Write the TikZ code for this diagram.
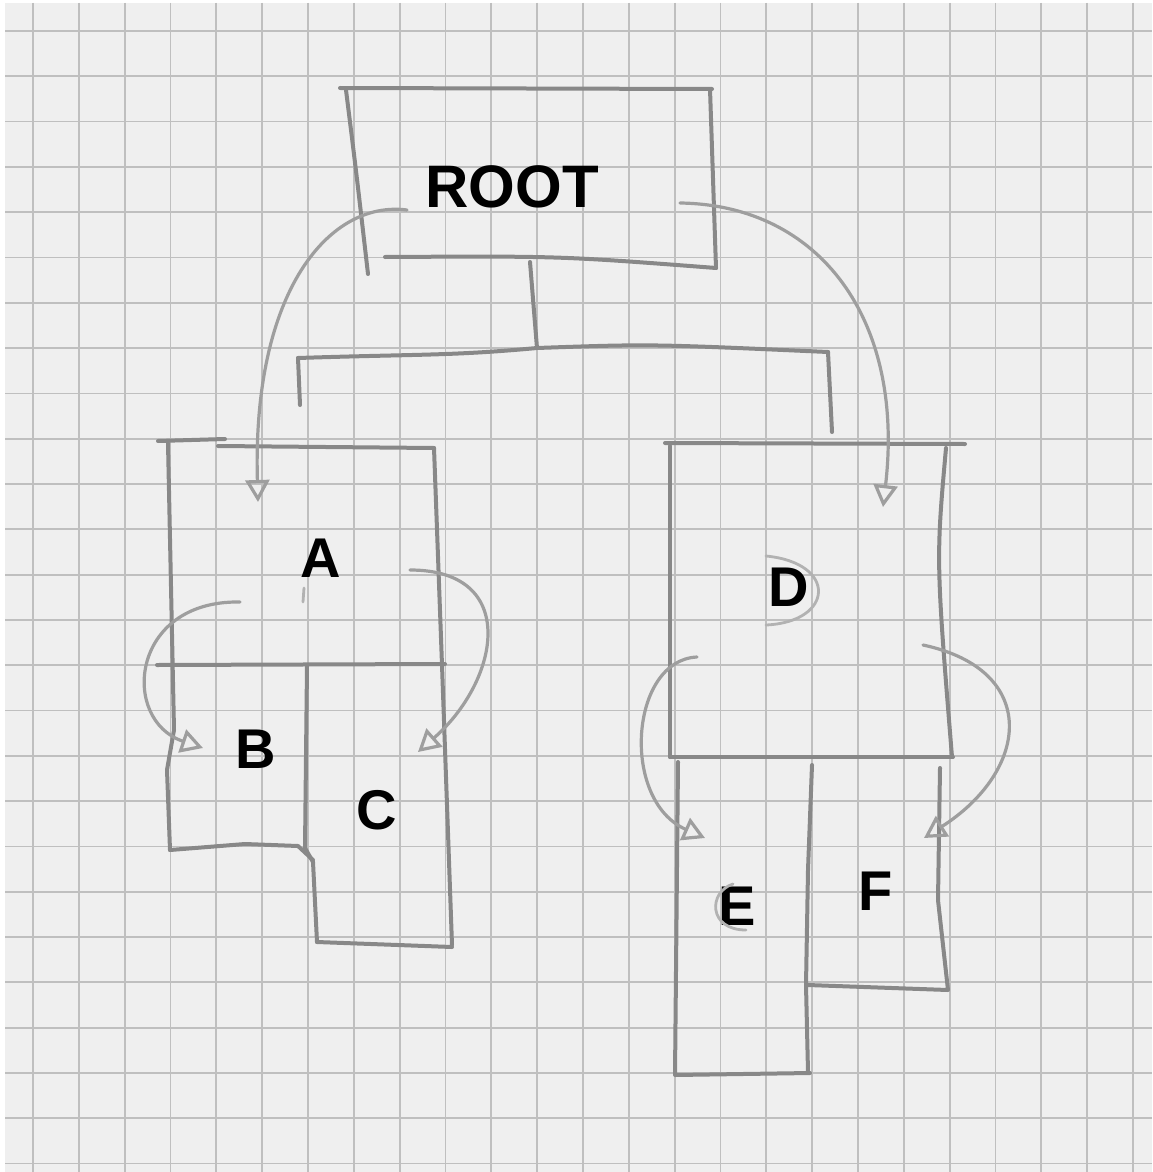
\documentclass[tikz,border=0pt]{standalone}
\usepackage{fontspec}
\setmainfont{Liberation Sans}
\usetikzlibrary{arrows.meta}
\definecolor{paper}{HTML}{EFEFEF}
\definecolor{gridc}{HTML}{BFBFBF}
\definecolor{pencil}{HTML}{888888}
\definecolor{pencilL}{HTML}{9E9E9E}
\tikzset{
  box/.style={draw=pencil, line width=2pt, line cap=round, line join=round},
  arr/.style={draw=pencilL, line width=1.6pt, line cap=round,
    -{Triangle[open, length=11pt, width=12pt]}},
  lbl/.style={inner sep=0pt, font=\bfseries\fontsize{28}{30}\selectfont},
  faint/.style={draw=pencilL!75!paper, line width=1.4pt, line cap=round},
  gridline/.style={draw=gridc, line width=0.9pt}
}
\begin{document}
\begin{tikzpicture}[x=0.5pt,y=-0.5pt]
\useasboundingbox (0,0) rectangle (1152,1172);
\fill[white] (0,0) rectangle (1152,1172);
\fill[paper] (5,3) rectangle (1152,1172);
\foreach \k in {0,...,24} { \draw[gridline] ({33+45.83*\k},3) -- ({33+45.83*\k},1172); }
\foreach \k in {0,...,25} { \draw[gridline] (5,{31+45.3*\k}) -- (1152,{31+45.3*\k}); }

% ROOT box
\draw[box] (340,88) -- (712,89);
\draw[box] (346,90) .. controls (356,170) .. (368,274);
\draw[box] (710,89) -- (716,268);
\draw[box] (385,257) .. controls (560,256) .. (716,268);
\node[lbl, font=\bfseries\fontsize{30}{32}\selectfont] (root) at (512,187) {ROOT};

% tree connector
\coordinate (stemT) at (530,262);
\coordinate (stemB) at (537,348);
\coordinate (barL) at (298,358);
\coordinate (barR) at (828,352);
\coordinate (dropL) at (300,405);
\coordinate (dropR) at (832,432);
\draw[box] (stemT) -- (stemB);
\draw[box] (barL) .. controls (420,354) and (450,356) .. (stemB) .. controls (650,344) .. (barR);
\draw[box] (barL) -- (dropL);
\draw[box] (barR) -- (dropR);

% left group A, B, C
\draw[box] (158,441) -- (225,439);
\draw[box] (218,446) -- (434,448);
\draw[box] (168,443) -- (174,730) -- (167,770) -- (170,850);
\draw[box] (434,448) -- (442,665) -- (452,945);
\draw[box] (157,665) -- (445,664);
\draw[box] (307,666) -- (305,848) -- (313,862) -- (317,942);
\draw[box] (170,850) -- (245,844) -- (298,846) -- (313,860);
\draw[box] (317,942) -- (452,947);
\node[lbl] (A) at (321,558) {A};
\node[lbl] (B) at (256,749) {B};
\node[lbl] (C) at (377,810) {C};

% right group D, E, F
\draw[box] (665,443) -- (965,444);
\draw[box] (670,446) -- (670,757);
\draw[box] (946,448) .. controls (936,560) .. (952,757);
\draw[box] (670,757) -- (953,757);
\draw[box] (678,762) -- (675,1075) -- (810,1073);
\draw[box] (812,765) -- (808,870) -- (806,985) -- (808,1072);
\draw[box] (940,768) -- (938,900) -- (948,990) -- (808,985);
\node[lbl] (D) at (789,587) {D};
\node[lbl] (E) at (737,906) {E};
\node[lbl] (F) at (876,891) {F};

% faint pencil marks
\draw[faint] (766,556) .. controls (838,563) and (834,622) .. (766,625);
\draw[faint] (733,884) .. controls (708,892) and (708,930) .. (746,930);
\draw[faint] (304,588) -- (303,602);

% arrows
\coordinate (rL) at (407,210);
\coordinate (aIn) at (258,502);
\coordinate (rR) at (680,203);
\coordinate (dIn) at (883,507);
\coordinate (aL) at (240,602);
\coordinate (bIn) at (203,748);
\coordinate (aR) at (410,570);
\coordinate (cIn) at (418,752);
\coordinate (dL) at (697,657);
\coordinate (eIn) at (705,838);
\coordinate (dR) at (923,645);
\coordinate (fIn) at (924,838);
\draw[arr] (rL) .. controls (330,200) and (252,290) .. (aIn);
\draw[arr] (rR) .. controls (820,205) and (905,320) .. (dIn);
\draw[arr] (aL) .. controls (130,600) and (120,720) .. (bIn);
\draw[arr] (aR) .. controls (520,570) and (500,680) .. (cIn);
\draw[arr] (dL) .. controls (630,660) and (620,800) .. (eIn);
\draw[arr] (dR) .. controls (1040,670) and (1030,770) .. (fIn);
\end{tikzpicture}
\end{document}
